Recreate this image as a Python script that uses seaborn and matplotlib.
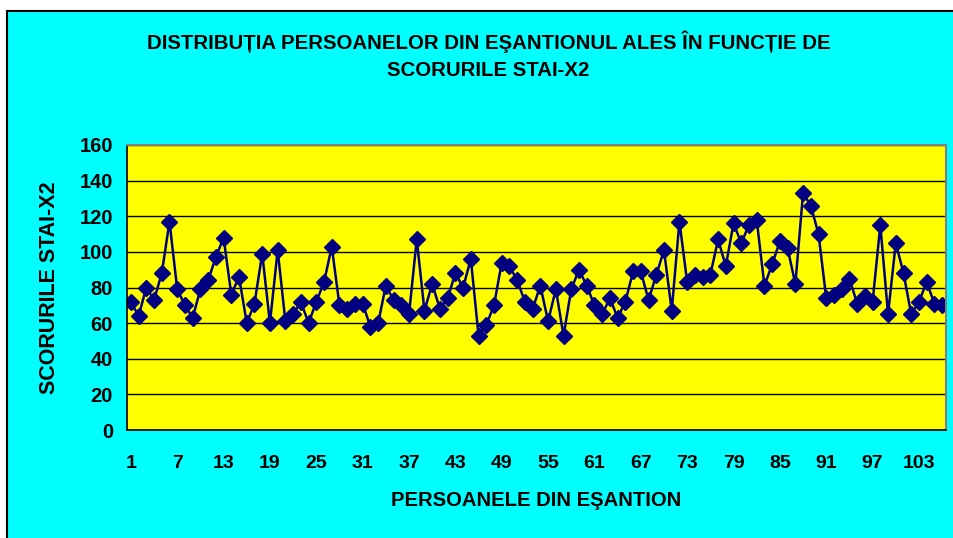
import matplotlib
matplotlib.use('Agg')
import matplotlib.pyplot as plt
from matplotlib.patches import Rectangle
from matplotlib.ticker import FixedLocator
import seaborn as sns
import pandas as pd

# date
persoane = list(range(1, 107))
scoruri = [72, 64, 80, 73, 88, 117, 79, 70, 63, 79, 84, 97, 108, 76, 86, 60, 71, 99, 60, 101,
           61, 65, 72, 60, 72, 83,
           103, 70, 68, 71, 71, 58, 60, 81, 73, 70, 65, 107, 67, 82, 68, 74, 88, 80, 96, 53,
           59, 70, 94, 92, 84, 72, 68,
           81, 61, 79, 53, 79, 90, 81, 70, 65, 74, 63, 72, 89, 89, 73, 87, 101, 67, 117, 83,
           87, 86, 87, 107, 92, 116,
           105, 115, 118, 81, 93, 106, 102, 82, 133, 126, 110, 74, 76, 79, 85, 71, 75, 72, 115,
           65, 105, 88, 65, 72, 83, 71, 70]
etichete_x = [1, 7, 13, 19, 25, 31, 37, 43, 49, 55, 61, 67, 73, 79, 85, 91, 97, 103]
etichete_y = [0, 20, 40, 60, 80, 100, 120, 140, 160]

df = pd.DataFrame({'persoana': persoane, 'scor': scoruri})

sns.set_style('white')
plt.rcParams['font.family'] = ['Liberation Sans', 'DejaVu Sans']
plt.rcParams['font.weight'] = 'bold'
plt.rcParams['text.color'] = 'black'
plt.rcParams['axes.labelcolor'] = 'black'
plt.rcParams['xtick.color'] = 'black'
plt.rcParams['ytick.color'] = 'black'

W, H = 954, 538
fig = plt.figure(figsize=(W / 100, H / 100), dpi=100, facecolor='white')

# fundal cyan cu chenar negru
fig.patches.append(Rectangle((7 / W, -0.05), 1.1, 1 - 11 / H + 0.05, transform=fig.transFigure,
                             facecolor='#00FFFF', edgecolor='black', linewidth=1.5, zorder=-1))

ax = fig.add_axes([127 / W, 1 - 430 / H, (946 - 127) / W, (430 - 145) / H])
ax.set_facecolor('#FFFF00')

sns.lineplot(data=df, x='persoana', y='scor', ax=ax, color='#000080', linewidth=1.8,
             marker='D', markersize=8, markeredgecolor='#000080', markeredgewidth=1)

ax.set_xlim(0.5, 106.5)
ax.set_ylim(0, 160)
ax.set_yticks(etichete_y)
ax.set_xticks(etichete_x)
ax.xaxis.set_minor_locator(FixedLocator([p + 0.5 for p in persoane[:-1]] + [0.5]))
ax.tick_params(axis='x', which='major', length=0, pad=18, labelsize=14)
ax.tick_params(axis='x', which='minor', length=5, width=1, color='black', direction='out')
ax.tick_params(axis='y', length=6, width=1, color='black', direction='out', labelsize=14.5, pad=4)
for lbl in ax.get_xticklabels() + ax.get_yticklabels():
    lbl.set_fontweight('bold')

ax.yaxis.grid(True, color='black', linewidth=1)
ax.set_axisbelow(True)
for s in ['left', 'bottom']:
    ax.spines[s].set_color('black')
    ax.spines[s].set_linewidth(1.2)
for s in ['top', 'right']:
    ax.spines[s].set_color('#808080')
    ax.spines[s].set_linewidth(1.5)

ax.set_xlabel('PERSOANELE DIN EŞANTION', fontsize=14.6, fontweight='bold', labelpad=14)
ax.set_ylabel('SCORURILE STAI-X2', fontsize=15.5, fontweight='bold', labelpad=14)

fig.text(0.512, 1 - 42 / H, 'DISTRIBUȚIA PERSOANELOR DIN EŞANTIONUL ALES ÎN FUNCȚIE DE',
         ha='center', va='center', fontsize=14.7, fontweight='bold')
fig.text(0.512, 1 - 70 / H, 'SCORURILE STAI-X2', ha='center', va='center',
         fontsize=14.7, fontweight='bold')

plt.savefig('out.png', dpi=100, facecolor=fig.get_facecolor())
plt.close()
